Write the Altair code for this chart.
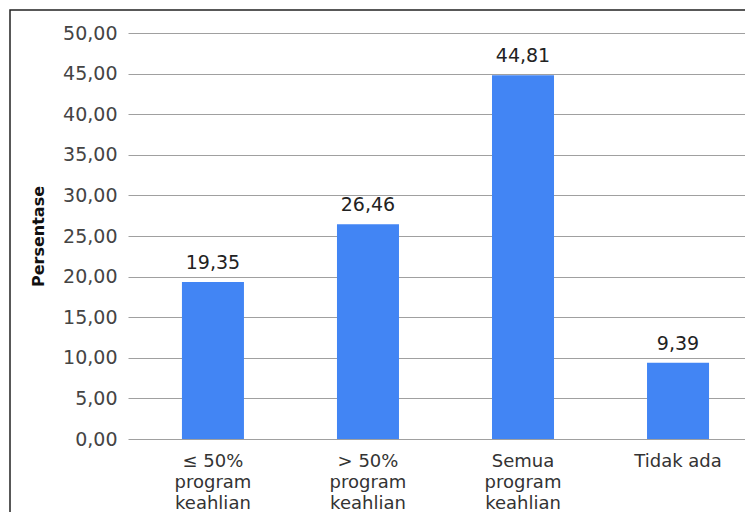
import altair as alt
import pandas as pd

categories = ["≤ 50%\nprogram\nkeahlian", "> 50%\nprogram\nkeahlian", "Semua\nprogram\nkeahlian", "Tidak ada"]
values = [19.35, 26.46, 44.81, 9.39]
y_ticks = [0, 5, 10, 15, 20, 25, 30, 35, 40, 45, 50]

df = pd.DataFrame({"kategori": categories, "persen": values})

FONT = "DejaVu Sans"

x_enc = alt.X(
    "kategori:N",
    sort=categories,
    title=None,
    scale=alt.Scale(paddingInner=0.6, paddingOuter=0.29, align=0.6),
    axis=alt.Axis(
        labelAngle=0,
        labelExpr="split(datum.label, '\\n')",
        labelLineHeight=21,
        labelFont=FONT,
        labelFontSize=18,
        labelColor="#333333",
        labelPadding=13,
        labelBaseline="top",
        ticks=False,
        domain=False,
        grid=False,
    ),
)

y_enc = alt.Y(
    "persen:Q",
    title="Persentase",
    scale=alt.Scale(domain=[0, 50], nice=False),
    axis=alt.Axis(
        values=y_ticks,
        labelExpr="replace(format(datum.value, '.2f'), '.', ',')",
        labelFont=FONT,
        labelFontSize=19,
        labelColor="#444444",
        labelPadding=11,
        ticks=False,
        tickSize=0,
        domain=False,
        grid=True,
        gridColor="#a0a0a0",
        gridWidth=1,
        titleFont=FONT,
        titleFontSize=16,
        titleFontWeight="bold",
        titleColor="#111111",
        titlePadding=16,
    ),
)

frame = alt.Chart(pd.DataFrame({"f": [0]})).mark_rect(
    fillOpacity=0, stroke="#222222", strokeWidth=1.5
).encode(
    x=alt.value(-118), x2=alt.value(700), y=alt.value(-23), y2=alt.value(600)
)

bars = alt.Chart(df).mark_bar(color="#4285F4").encode(x=x_enc, y=y_enc)

labels = alt.Chart(df).transform_calculate(
    lbl="replace(format(datum.persen, '.2f'), '.', ',')"
).mark_text(
    font=FONT, fontSize=19, color="#222222", baseline="middle", dy=-19
).encode(x=alt.X("kategori:N", sort=categories), y="persen:Q", text="lbl:N")

chart = alt.layer(frame, bars, labels).properties(
    width=617,
    height=406,
    autosize=alt.AutoSizeParams(type="none"),
    padding={"left": 120, "top": 25, "right": 0, "bottom": 73},
    background="white",
).configure_view(stroke=None)

chart.save("out.html", embed_options={"renderer": "svg", "actions": False})
